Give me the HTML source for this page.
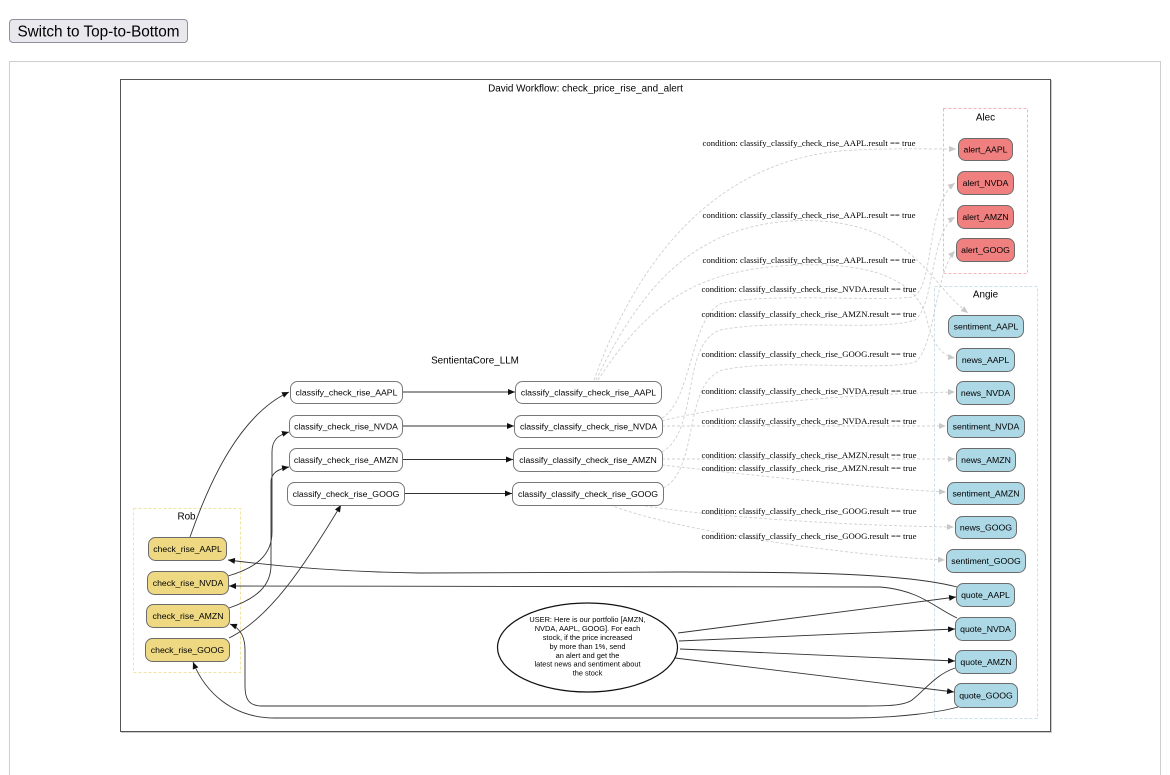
<!DOCTYPE html>
<html>
<head>
<meta charset="utf-8">
<style>
  html, body { margin: 0; padding: 0; background: #ffffff; }
  body { width: 1170px; height: 775px; overflow: hidden; position: relative; }
  svg { position: absolute; left: 0; top: 0; }
  .nt { font-family: "Liberation Sans", Arial, sans-serif; font-size: 8.7px; fill: #000; text-anchor: middle; }
  .ct { font-family: "Liberation Sans", Arial, sans-serif; font-size: 9.9px; fill: #000; text-anchor: middle; }
  .el { font-family: "Liberation Serif", "Times New Roman", serif; font-size: 8.7px; fill: #000; text-anchor: middle; }
  .et { font-family: "Liberation Sans", Arial, sans-serif; font-size: 7.4px; fill: #000; text-anchor: middle; }
</style>
</head>
<body>
<svg width="1170" height="775" viewBox="0 0 1170 775" xmlns="http://www.w3.org/2000/svg">
  <defs>
    <marker id="ab" markerUnits="userSpaceOnUse" markerWidth="8" markerHeight="6" refX="7" refY="3" orient="auto">
      <path d="M0,0 L7,3 L0,6 Z" fill="#111"/>
    </marker>
    <marker id="ag" markerUnits="userSpaceOnUse" markerWidth="8" markerHeight="6" refX="7" refY="3" orient="auto">
      <path d="M0,0 L7,3 L0,6 Z" fill="#c8c8c8"/>
    </marker>
  </defs>

  <!-- Button -->
  <rect x="9.5" y="19.5" width="178" height="23" rx="3.5" ry="3.5" fill="#e9e9ed" stroke="#8f8f9d" stroke-width="1"/>
  <text x="98.5" y="36.5" font-family="'Liberation Sans', Arial, sans-serif" font-size="15.3px" text-anchor="middle" fill="#000">Switch to Top-to-Bottom</text>

  <!-- Outer container -->
  <rect x="9.5" y="61.5" width="1151" height="740" fill="#fff" stroke="#cfcfcf" stroke-width="1"/>

  <!-- Inner graph box -->
  <rect x="120.5" y="79.5" width="930" height="652" fill="#fff" stroke="#555" stroke-width="1"/>
  <line x1="121" y1="732.5" x2="1051" y2="732.5" stroke="#ccc" stroke-width="1"/>
  <line x1="1051.5" y1="80" x2="1051.5" y2="733" stroke="#ccc" stroke-width="1"/>
  <text class="ct" x="585.5" y="91.5">David Workflow: check_price_rise_and_alert</text>

  <!-- Clusters -->
  <rect x="133.5" y="508.5" width="107" height="164" fill="none" stroke="#f3e3a3" stroke-width="1" stroke-dasharray="3,2"/>
  <text class="ct" x="186.5" y="519.5">Rob</text>

  <rect x="943.5" y="108.5" width="84" height="165" fill="none" stroke="#f2b8b8" stroke-width="1" stroke-dasharray="3,2"/>
  <text class="ct" x="985.5" y="120.5">Alec</text>

  <rect x="934.5" y="286.5" width="103" height="432" fill="none" stroke="#c6e2ee" stroke-width="1" stroke-dasharray="3,2"/>
  <text class="ct" x="985.5" y="297.5">Angie</text>

  <text class="ct" x="475" y="363.5">SentientaCore_LLM</text>

  <!-- Dashed gray conditional edges -->
  <g fill="none" stroke="#d0d0d0" stroke-width="0.9" stroke-dasharray="3,2" marker-end="url(#ag)">
    <path d="M594,380 C 630,280 700,165 840,151 C 880,148 920,149 956,149"/>
    <path d="M596,380 C 640,290 690,228 790,221 C 880,216 915,255 940,285 C 950,297 958,305 968,313"/>
    <path d="M598,380 C 650,300 700,268 800,265 C 890,262 920,290 927,320 C 933,345 942,356 955,358"/>
    <path d="M662,418 C 692,400 690,320 720,304 C 760,292 880,302 912,297 C 935,290 925,205 955,183"/>
    <path d="M662,452 C 700,430 680,345 720,330 C 780,318 880,332 915,320 C 935,305 930,232 955,217"/>
    <path d="M663,488 C 700,470 682,385 722,370 C 780,358 880,372 915,362 C 935,348 935,272 955,251"/>
    <path d="M662,421 C 720,405 850,394 955,392"/>
    <path d="M662,426 L 946,426"/>
    <path d="M662,459 L 955,459"/>
    <path d="M662,465 C 750,475 880,489 946,492"/>
    <path d="M640,505 C 700,516 850,526 954,527"/>
    <path d="M610,505 C 680,532 850,556 945,560"/>
  </g>

  <!-- Edge labels -->
  <g class="el">
    <text x="809" y="146" textLength="213" lengthAdjust="spacingAndGlyphs">condition: classify_classify_check_rise_AAPL.result == true</text>
    <text x="809" y="218" textLength="213" lengthAdjust="spacingAndGlyphs">condition: classify_classify_check_rise_AAPL.result == true</text>
    <text x="809" y="263" textLength="213" lengthAdjust="spacingAndGlyphs">condition: classify_classify_check_rise_AAPL.result == true</text>
    <text x="809" y="292" textLength="215" lengthAdjust="spacingAndGlyphs">condition: classify_classify_check_rise_NVDA.result == true</text>
    <text x="809" y="317" textLength="215" lengthAdjust="spacingAndGlyphs">condition: classify_classify_check_rise_AMZN.result == true</text>
    <text x="809" y="357" textLength="215" lengthAdjust="spacingAndGlyphs">condition: classify_classify_check_rise_GOOG.result == true</text>
    <text x="809" y="394" textLength="215" lengthAdjust="spacingAndGlyphs">condition: classify_classify_check_rise_NVDA.result == true</text>
    <text x="809" y="424" textLength="215" lengthAdjust="spacingAndGlyphs">condition: classify_classify_check_rise_NVDA.result == true</text>
    <text x="809" y="458" textLength="215" lengthAdjust="spacingAndGlyphs">condition: classify_classify_check_rise_AMZN.result == true</text>
    <text x="809" y="471" textLength="215" lengthAdjust="spacingAndGlyphs">condition: classify_classify_check_rise_AMZN.result == true</text>
    <text x="809" y="514" textLength="215" lengthAdjust="spacingAndGlyphs">condition: classify_classify_check_rise_GOOG.result == true</text>
    <text x="809" y="539" textLength="215" lengthAdjust="spacingAndGlyphs">condition: classify_classify_check_rise_GOOG.result == true</text>
  </g>

  <!-- Solid edges -->
  <g fill="none" stroke="#333" stroke-width="0.9" marker-end="url(#ab)">
    <path d="M190,537 C 210,480 240,415 289,392"/>
    <path d="M228,576 C 255,568 272,556 272,532 L 272,452 C 272,440 278,435 289,432"/>
    <path d="M229,608 C 258,598 271,585 271,565 L 271,482 C 271,473 278,469 289,467"/>
    <path d="M229,638 C 270,618 305,565 341,505"/>
    <path d="M402,392 L 515,392"/>
    <path d="M402,426 L 514,426"/>
    <path d="M402,459.5 L 513,459.5"/>
    <path d="M404,493.5 L 512,493.5"/>
    <path d="M678,633 L 956,597"/>
    <path d="M679,641 L 955,629"/>
    <path d="M680,649 L 955,661"/>
    <path d="M675,658 L 954,692"/>
    <path d="M957,587 C 900,572 780,572 680,572 L 420,573 C 340,572 275,566 228,560"/>
    <path d="M957,618 C 935,608 920,590 880,587 L 229,586"/>
    <path d="M955,668 C 935,675 925,690 912,700 C 904,706 885,706 860,706 L 262,706 C 248,706 245,698 245,686 L 245,650 C 245,636 240,628 230,624"/>
    <path d="M958,707 C 940,712 900,718 850,718 L 275,718 C 232,718 205,692 193,662"/>
  </g>

  <!-- Nodes: Rob -->
  <g stroke="#6b6b6b" stroke-width="1" fill="#eed982">
    <rect x="148.5" y="537.5" width="78" height="23" rx="7"/>
    <rect x="147.5" y="571.5" width="81" height="23" rx="7"/>
    <rect x="146.5" y="604.5" width="83" height="23" rx="7"/>
    <rect x="145.5" y="638.5" width="84" height="23" rx="7"/>
  </g>
  <text class="nt" x="187.5" y="552">check_rise_AAPL</text>
  <text class="nt" x="188" y="586">check_rise_NVDA</text>
  <text class="nt" x="188" y="619">check_rise_AMZN</text>
  <text class="nt" x="187.5" y="653">check_rise_GOOG</text>

  <!-- Nodes: classify_check -->
  <g stroke="#777" stroke-width="1" fill="#fff">
    <rect x="290.5" y="381.5" width="112" height="22" rx="7"/>
    <rect x="289.5" y="415.5" width="113" height="22" rx="7"/>
    <rect x="289.5" y="448.5" width="113" height="23" rx="7"/>
    <rect x="287.5" y="482.5" width="117" height="23" rx="7"/>
    <rect x="515.5" y="381.5" width="146" height="22" rx="7"/>
    <rect x="514.5" y="415.5" width="148" height="22" rx="7"/>
    <rect x="513.5" y="448.5" width="149" height="23" rx="7"/>
    <rect x="512.5" y="482.5" width="151" height="23" rx="7"/>
  </g>
  <text class="nt" x="346.5" y="395.5">classify_check_rise_AAPL</text>
  <text class="nt" x="346" y="429.5">classify_check_rise_NVDA</text>
  <text class="nt" x="346" y="463">classify_check_rise_AMZN</text>
  <text class="nt" x="346" y="497">classify_check_rise_GOOG</text>
  <text class="nt" x="588.5" y="395.5">classify_classify_check_rise_AAPL</text>
  <text class="nt" x="588.5" y="429.5">classify_classify_check_rise_NVDA</text>
  <text class="nt" x="588" y="463">classify_classify_check_rise_AMZN</text>
  <text class="nt" x="588" y="497">classify_classify_check_rise_GOOG</text>

  <!-- Nodes: Alec -->
  <g stroke="#6b6b6b" stroke-width="1" fill="#f08080">
    <rect x="958.5" y="138.5" width="54" height="22" rx="7"/>
    <rect x="957.5" y="171.5" width="56" height="23" rx="7"/>
    <rect x="957.5" y="205.5" width="56" height="23" rx="7"/>
    <rect x="956.5" y="238.5" width="58" height="23" rx="7"/>
  </g>
  <text class="nt" x="985.5" y="152.5">alert_AAPL</text>
  <text class="nt" x="985.5" y="186">alert_NVDA</text>
  <text class="nt" x="985.5" y="220">alert_AMZN</text>
  <text class="nt" x="985.5" y="253">alert_GOOG</text>

  <!-- Nodes: Angie -->
  <g stroke="#6b6b6b" stroke-width="1" fill="#add8e6">
    <rect x="948.5" y="315.5" width="75" height="22" rx="7"/>
    <rect x="956.5" y="348.5" width="58" height="23" rx="7"/>
    <rect x="956.5" y="381.5" width="58" height="23" rx="7"/>
    <rect x="947.5" y="415.5" width="77" height="22" rx="7"/>
    <rect x="956.5" y="448.5" width="59" height="23" rx="7"/>
    <rect x="947.5" y="482.5" width="77" height="22" rx="7"/>
    <rect x="955.5" y="516.5" width="61" height="22" rx="7"/>
    <rect x="946.5" y="549.5" width="79" height="23" rx="7"/>
    <rect x="956.5" y="583.5" width="58" height="23" rx="7"/>
    <rect x="955.5" y="617.5" width="60" height="23" rx="7"/>
    <rect x="955.5" y="650.5" width="61" height="23" rx="7"/>
    <rect x="954.5" y="683.5" width="63" height="24" rx="7"/>
  </g>
  <text class="nt" x="986" y="329.5">sentiment_AAPL</text>
  <text class="nt" x="985.5" y="363">news_AAPL</text>
  <text class="nt" x="985.5" y="396">news_NVDA</text>
  <text class="nt" x="986" y="429.5">sentiment_NVDA</text>
  <text class="nt" x="986" y="463">news_AMZN</text>
  <text class="nt" x="986" y="496.5">sentiment_AMZN</text>
  <text class="nt" x="986" y="530.5">news_GOOG</text>
  <text class="nt" x="986" y="564">sentiment_GOOG</text>
  <text class="nt" x="985.5" y="598">quote_AAPL</text>
  <text class="nt" x="985.5" y="632">quote_NVDA</text>
  <text class="nt" x="986" y="665">quote_AMZN</text>
  <text class="nt" x="986" y="698.5">quote_GOOG</text>

  <!-- User ellipse -->
  <ellipse cx="587.5" cy="647.5" rx="90" ry="44.5" fill="#fff" stroke="#111" stroke-width="1.2"/>
  <g class="et">
    <text x="587.5" y="622">USER: Here is our portfolio [AMZN,</text>
    <text x="587.5" y="631">NVDA, AAPL, GOOG]. For each</text>
    <text x="587.5" y="640">stock, if the price increased</text>
    <text x="587.5" y="649">by more than 1%, send</text>
    <text x="587.5" y="658">an alert and get the</text>
    <text x="587.5" y="666.5">latest news and sentiment about</text>
    <text x="587.5" y="675.5">the stock</text>
  </g>
</svg>
</body>
</html>
